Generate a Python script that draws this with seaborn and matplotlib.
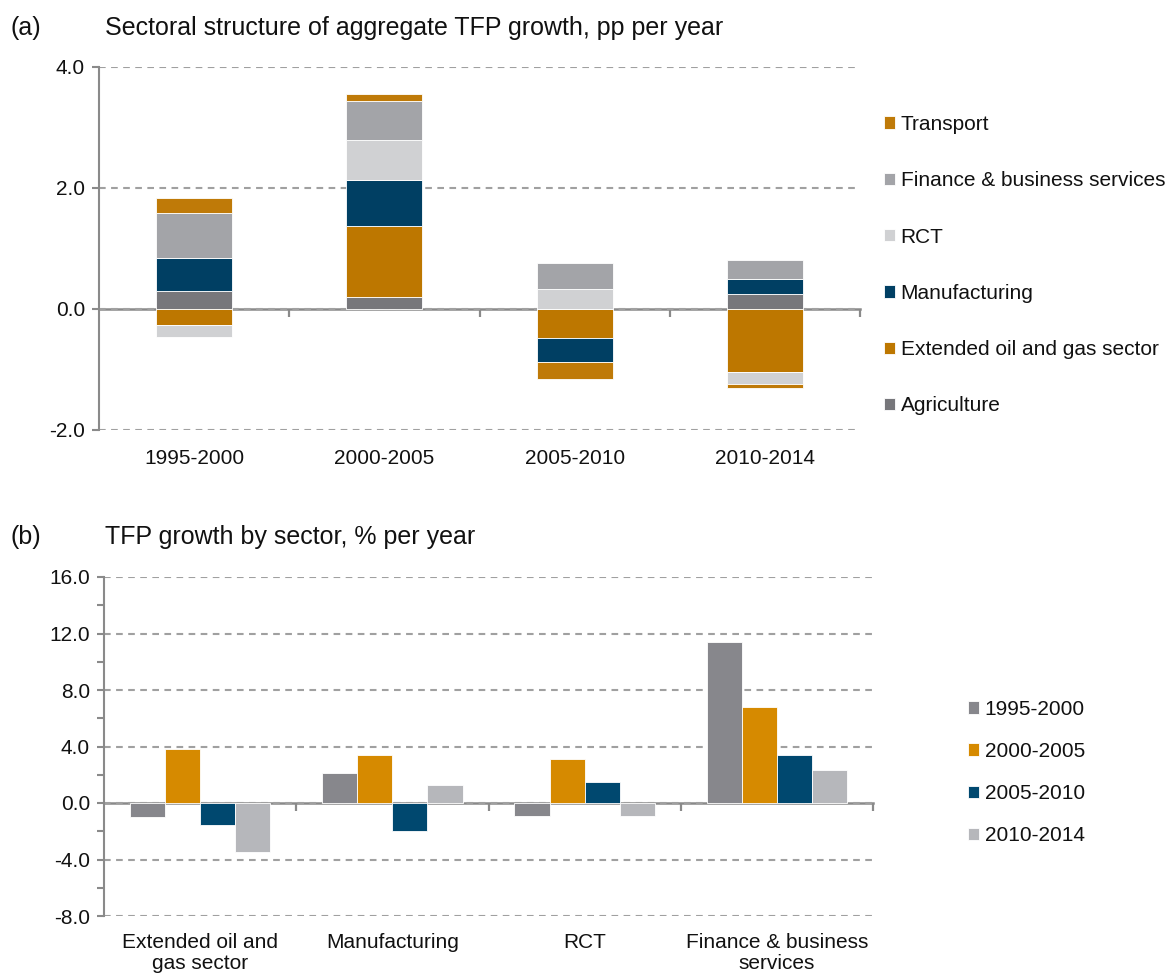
import numpy as np
import pandas as pd
import matplotlib
matplotlib.use("Agg")
import matplotlib.pyplot as plt
import seaborn as sns

sns.set_theme(style="white")
plt.rcParams['font.family'] = ['Liberation Sans', 'DejaVu Sans']

# ---------------- data: panel (a) ----------------
periods = ['1995-2000', '2000-2005', '2005-2010', '2010-2014']
agriculture = [0.30, 0.20, 0.00, 0.24]
oil_gas = [-0.26, 1.17, -0.48, -1.04]
manufacturing = [0.54, 0.76, -0.40, 0.25]
rct = [-0.20, 0.67, 0.335, -0.20]
finance = [0.75, 0.63, 0.42, 0.32]
transport = [0.24, 0.12, -0.27, -0.07]

stack_names = ['Agriculture', 'Extended oil and gas sector', 'Manufacturing',
               'RCT', 'Finance & business services', 'Transport']
stack_values = [agriculture, oil_gas, manufacturing, rct, finance, transport]
stack_colors = ['#77777b', '#bd7700', '#003f63', '#d0d1d3', '#a3a4a8', '#bf7a08']

# ---------------- data: panel (b) ----------------
sectors = ['Extended oil and\ngas sector', 'Manufacturing', 'RCT',
           'Finance & business\nservices']
g1995 = [-1.00, 2.15, -0.94, 11.42]
g2000 = [3.82, 3.37, 3.09, 6.79]
g2005 = [-1.53, -1.98, 1.51, 3.40]
g2010 = [-3.47, 1.30, -0.90, 2.31]
period_colors = ['#87878c', '#d68a00', '#00486f', '#b6b7bb']

GRAY = '#8a8a8a'
GRID = '#a0a0a0'
FS = 15
TXT = '#111111'

fig = plt.figure(figsize=(11.73, 9.74), dpi=100)
W, H = 1173, 974


def px_axes(left, top, right, bottom):
    return fig.add_axes([left / W, 1 - bottom / H, (right - left) / W, (bottom - top) / H])


def style_axes(ax, ymin, ymax, major, minor=None):
    ax.set_ylim(ymin, ymax)
    ax.set_xlim(-0.5, 3.5)
    ax.set_yticks(np.arange(ymin, ymax + 0.001, major))
    ax.set_yticklabels([f'{v:.1f}' for v in np.arange(ymin, ymax + 0.001, major)])
    if minor is not None:
        ax.set_yticks(np.arange(ymin, ymax + 0.001, minor), minor=True)
    ax.set_axisbelow(True)
    ax.yaxis.grid(True, which='major', linestyle=(0, (3.2, 2.6)), color=GRID, linewidth=1.5)
    ax.xaxis.grid(False)
    for s in ['top', 'right', 'bottom']:
        ax.spines[s].set_visible(False)
    ax.spines['left'].set_color(GRAY)
    ax.spines['left'].set_linewidth(1.5)
    ax.tick_params(axis='y', which='both', left=True, direction='out', color=GRAY,
                   width=1.5, labelsize=FS, labelcolor=TXT, pad=5)
    ax.tick_params(axis='y', which='major', length=5)
    ax.tick_params(axis='y', which='minor', length=5)
    ax.tick_params(axis='x', length=0, labelsize=FS, labelcolor=TXT)
    ax.set_xlabel('')
    ax.set_ylabel('')
    # zero axis line with ticks at category boundaries
    frac = (0 - ymin) / (ymax - ymin)
    sec = ax.secondary_xaxis(frac)
    sec.set_xticks([0.5, 1.5, 2.5, 3.5])
    sec.tick_params(axis='x', length=6, width=1.6, color=GRAY, direction='out',
                    labelbottom=False, labeltop=False)
    for s in sec.spines.values():
        s.set_color(GRAY)
        s.set_linewidth(1.8)
    return sec


# ---------------- panel (a): stacked bars ----------------
ax1 = px_axes(99, 67, 860, 430)
pos_base = np.zeros(len(periods))
neg_base = np.zeros(len(periods))
for name, vals, col in zip(stack_names, stack_values, stack_colors):
    vals = np.asarray(vals, dtype=float)
    bottoms = np.where(vals >= 0, pos_base, neg_base)
    sns.barplot(x=periods, y=vals, bottom=bottoms, color=col, width=0.4,
                edgecolor='white', linewidth=0.6, label=name, ax=ax1,
                errorbar=None, saturation=1)
    pos_base = pos_base + np.where(vals >= 0, vals, 0)
    neg_base = neg_base + np.where(vals < 0, vals, 0)

style_axes(ax1, -2.0, 4.0, 2.0)
ax1.tick_params(axis='x', pad=14)

h, l = ax1.get_legend_handles_labels()
if ax1.get_legend() is not None:
    ax1.get_legend().remove()
fig.legend(h[::-1], l[::-1], loc='upper left', bbox_to_anchor=(884 / W, 1 - 115 / H),
           frameon=False, fontsize=FS, handlelength=0.55, handleheight=0.55,
           handletextpad=0.25, labelspacing=1.79, borderpad=0, borderaxespad=0,
           labelcolor=TXT)

# ---------------- panel (b): grouped bars ----------------
ax2 = px_axes(104, 577, 873, 916)
df = pd.DataFrame({
    'sector': sectors * 4,
    'period': [p for p in periods for _ in sectors],
    'value': g1995 + g2000 + g2005 + g2010,
})
sns.barplot(data=df, x='sector', y='value', hue='period', order=sectors,
            hue_order=periods, palette=period_colors, width=0.73, gap=0,
            edgecolor='white', linewidth=0.6, errorbar=None, saturation=1, ax=ax2)
style_axes(ax2, -8.0, 16.0, 4.0, minor=2.0)
ax2.tick_params(axis='x', pad=12)
for t in ax2.get_xticklabels():
    t.set_linespacing(1.18)

h2, l2 = ax2.get_legend_handles_labels()
if ax2.get_legend() is not None:
    ax2.get_legend().remove()
fig.legend(h2, l2, loc='upper left', bbox_to_anchor=(968 / W, 1 - 700 / H),
           frameon=False, fontsize=FS, handlelength=0.55, handleheight=0.55,
           handletextpad=0.25, labelspacing=1.11, borderpad=0, borderaxespad=0,
           labelcolor=TXT)

# ---------------- titles ----------------
fig.text(10 / W, 1 - 28 / H, '(a)', fontsize=18, color=TXT, va='center', ha='left')
fig.text(105 / W, 1 - 28 / H, 'Sectoral structure of aggregate TFP growth, pp per year',
         fontsize=18, color=TXT, va='center', ha='left')
fig.text(10 / W, 1 - 537 / H, '(b)', fontsize=18, color=TXT, va='center', ha='left')
fig.text(105 / W, 1 - 537 / H, 'TFP growth by sector, % per year',
         fontsize=18, color=TXT, va='center', ha='left')

fig.savefig('out.png', dpi=100)
